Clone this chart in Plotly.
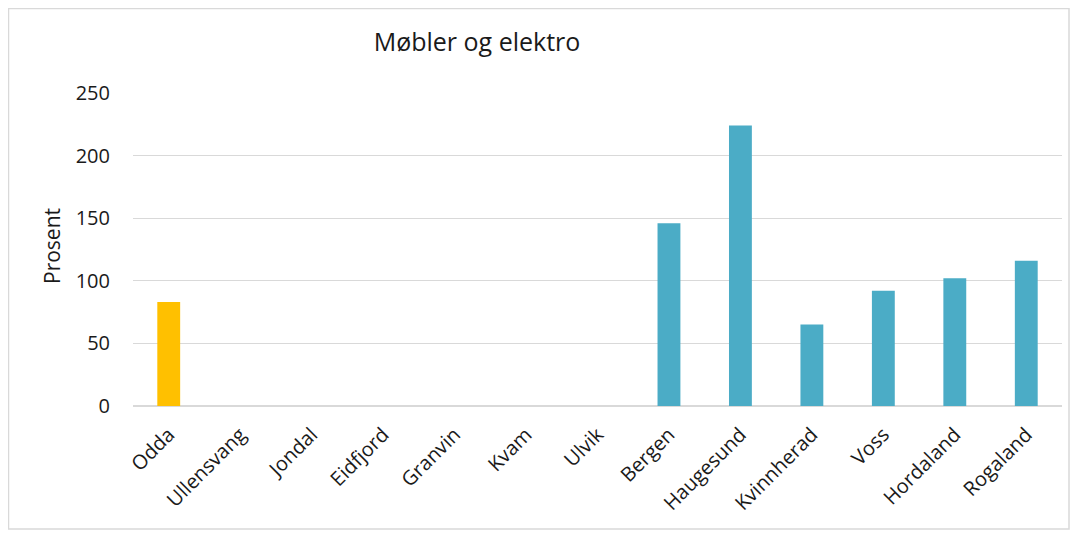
import plotly.graph_objects as go

categories = ["Odda", "Ullensvang", "Jondal", "Eidfjord", "Granvin", "Kvam", "Ulvik",
              "Bergen", "Haugesund", "Kvinnherad", "Voss", "Hordaland", "Rogaland"]
values = [83, None, None, None, None, None, None, 146, 224, 65, 92, 102, 116]
colors = ["#FFC000"] + ["#4BACC6"] * 12

# page body has an 8px margin; figure coords = reference coords - 8
W, H = 1062, 522
L, R, T, B = 125, 8, 85, 124
pw, ph = W - L - R, H - T - B

fig = go.Figure(go.Bar(x=categories, y=values, marker=dict(color=colors, line=dict(width=0)),
                       hoverinfo="x+y"))

fig.update_layout(
    width=W, height=H,
    margin=dict(l=L, r=R, t=T, b=B, autoexpand=False),
    paper_bgcolor="white", plot_bgcolor="white",
    bargap=0.68,
    showlegend=False,
    font=dict(family="Open Sans, Liberation Sans, sans-serif", color="#1a1a1a", size=20),
    title=dict(text="Møbler og elektro", x=469 / W, xanchor="center", y=1 - 34 / H, yanchor="middle",
               font=dict(size=25, color="#1a1a1a")),
    xaxis=dict(tickangle=-45, showgrid=False, showline=False, ticks="", tickfont=dict(size=20),
               ticklabelstandoff=12, automargin=False),
    yaxis=dict(range=[0, 250], dtick=50, showgrid=True, gridcolor="#d9d9d9", gridwidth=1,
               zeroline=True, zerolinecolor="#d9d9d9", showline=False, ticks="",
               tickfont=dict(size=20), ticklabelstandoff=22, automargin=False),
    annotations=[dict(text="Prosent", xref="paper", yref="paper", x=(44 - L) / pw, y=(H - B - 238) / ph,
                      xanchor="center", yanchor="middle", textangle=-90, showarrow=False,
                      font=dict(size=21, color="#1a1a1a"))],
    shapes=[dict(type="rect", xref="paper", yref="paper",
                 x0=(0.5 - L) / pw, x1=(W - 1 - L) / pw,
                 y0=(H - B - (H - 1)) / ph, y1=(H - B - 0.5) / ph,
                 line=dict(color="#d9d9d9", width=1.5), fillcolor="rgba(0,0,0,0)", layer="below")],
)

fig.write_html("out.html")
